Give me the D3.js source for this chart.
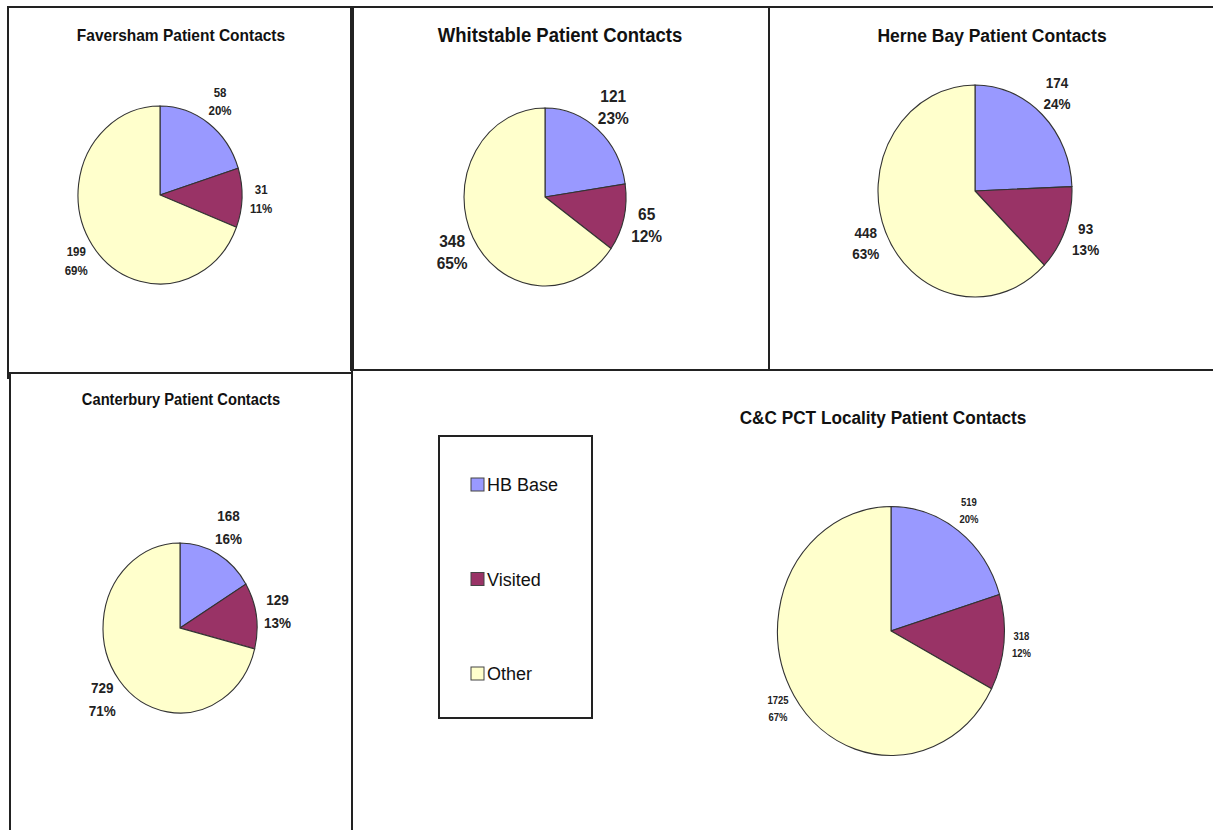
<!DOCTYPE html>
<html>
<head>
<meta charset="utf-8">
<script src="https://cdn.jsdelivr.net/npm/d3@7"></script>
<style>
  body { margin: 0; background: #fff; }
  text { font-family: "Liberation Sans", Arial, sans-serif; }
</style>
</head>
<body>
<div id="chart"></div>
<script>
// categories and colours (same for every pie)
var categories = ["HB Base", "Visited", "Other"];
var sliceColors = ["#9999ff", "#993366", "#ffffcc"];

// values per locality
var faversham = [58, 31, 199];
var whitstable = [121, 65, 348];
var herneBay = [174, 93, 448];
var canterbury = [168, 129, 729];
var locality = [519, 318, 1725];

var chartTitles = [
  "Faversham Patient Contacts",
  "Whitstable Patient Contacts",
  "Herne Bay Patient Contacts",
  "Canterbury Patient Contacts",
  "C&C PCT Locality Patient Contacts"
];

var svgWidth = 1213;
var svgHeight = 830;
// the source picture is stretched a little vertically
var stretch = 1.1;

var svg = d3.select("#chart")
  .append("svg")
  .attr("width", svgWidth)
  .attr("height", svgHeight);

// panel layout
var panels = [
  { values: faversham, title: chartTitles[0], cx: 160, cy: 195, rx: 82, ry: 89,
    tx: 181, ty: 40.5, tSize: 15.5, lSize: 11.5, gap: 19 },
  { values: whitstable, title: chartTitles[1], cx: 545, cy: 197, rx: 81, ry: 89,
    tx: 560, ty: 41.5, tSize: 18.5, lSize: 15.5, gap: 22 },
  { values: herneBay, title: chartTitles[2], cx: 975, cy: 191, rx: 97, ry: 106,
    tx: 992, ty: 42, tSize: 17.5, lSize: 13.5, gap: 21 },
  { values: canterbury, title: chartTitles[3], cx: 180, cy: 628, rx: 77, ry: 85,
    tx: 181, ty: 405, tSize: 14.7, lSize: 13.5, gap: 23 },
  { values: locality, title: chartTitles[4], cx: 891, cy: 631, rx: 113.5, ry: 124.5,
    tx: 883, ty: 424, tSize: 17.2, lSize: 9.5, gap: 17 }
];

// frame lines
var frame = svg.append("g")
  .attr("stroke", "#222")
  .attr("fill", "none");

function line(x1, y1, x2, y2, w) {
  frame.append("line")
    .attr("x1", x1).attr("y1", y1)
    .attr("x2", x2).attr("y2", y2)
    .attr("stroke-width", w);
}
line(7, 7, 1213, 7, 2);
line(8, 6, 8, 379, 2);
line(352, 6, 352, 371, 4);
line(7, 373, 352, 373, 2);
line(352, 370, 1213, 370, 2);
line(769, 7, 769, 370, 2);
line(10, 373, 10, 830, 2);
line(352, 370, 352, 830, 2);

var pie = d3.pie().sort(null).value(d => d);

panels.forEach(function (p) {
  var total = d3.sum(p.values);
  var arcs = pie(p.values);
  var arc = d3.arc().innerRadius(0).outerRadius(p.rx);

  var g = svg.append("g")
    .attr("transform", `translate(${p.cx}, ${p.cy})`);

  g.append("g")
    .attr("transform", `scale(1, ${p.ry / p.rx})`)
    .selectAll("path")
    .data(arcs)
    .enter()
    .append("path")
    .attr("d", arc)
    .attr("fill", (d, i) => sliceColors[i])
    .attr("stroke", "#333")
    .attr("stroke-width", 1.1)
    .attr("vector-effect", "non-scaling-stroke");

  // title
  svg.append("text")
    .attr("transform", `translate(${p.tx}, ${p.ty}) scale(1, ${stretch})`)
    .attr("text-anchor", "middle")
    .attr("font-weight", "bold")
    .attr("font-size", p.tSize)
    .attr("fill", "#111")
    .text(p.title);

  // data labels outside each slice
  arcs.forEach(function (d) {
    var a = (d.startAngle + d.endAngle) / 2;
    var s = Math.sin(a), c = Math.cos(a);
    var pct = Math.round(d.value / total * 100) + "%";
    var lbl = g.append("text")
      .attr("text-anchor", "middle")
      .attr("font-weight", "bold")
      .attr("font-size", p.lSize)
      .attr("fill", "#222");
    var t1 = lbl.append("tspan").text(d.value);
    var t2 = lbl.append("tspan").text(pct);
    var w = Math.max(t1.node().getComputedTextLength(), t2.node().getComputedTextLength());
    var h = p.gap * 2;
    var lx = (p.rx + 8) * s + s * w / 2;
    var ly = -(p.ry + 8) * c - c * h / 2;
    var capH = p.lSize * 0.36;
    var half = p.gap / 2 / stretch;
    lbl.attr("transform", `translate(${lx}, ${ly}) scale(1, ${stretch})`);
    t1.attr("x", 0).attr("y", -half + capH);
    t2.attr("x", 0).attr("y", half + capH);
  });
});

// legend
var legend = svg.append("g");
legend.append("rect")
  .attr("x", 439).attr("y", 436)
  .attr("width", 153).attr("height", 282)
  .attr("fill", "none")
  .attr("stroke", "#222")
  .attr("stroke-width", 2);

var legendY = d3.scalePoint()
  .domain(categories)
  .range([491, 680]);

var items = legend.selectAll(".item")
  .data(categories)
  .enter()
  .append("g")
  .attr("transform", d => `translate(471, ${legendY(d)})`);

items.append("rect")
  .attr("x", 0).attr("y", -13)
  .attr("width", 13).attr("height", 13)
  .attr("fill", (d, i) => sliceColors[i])
  .attr("stroke", "#444")
  .attr("stroke-width", 1);

items.append("text")
  .attr("x", 16)
  .attr("y", 0)
  .attr("font-size", 18)
  .attr("fill", "#111")
  .text(d => d);
</script>
</body>
</html>
